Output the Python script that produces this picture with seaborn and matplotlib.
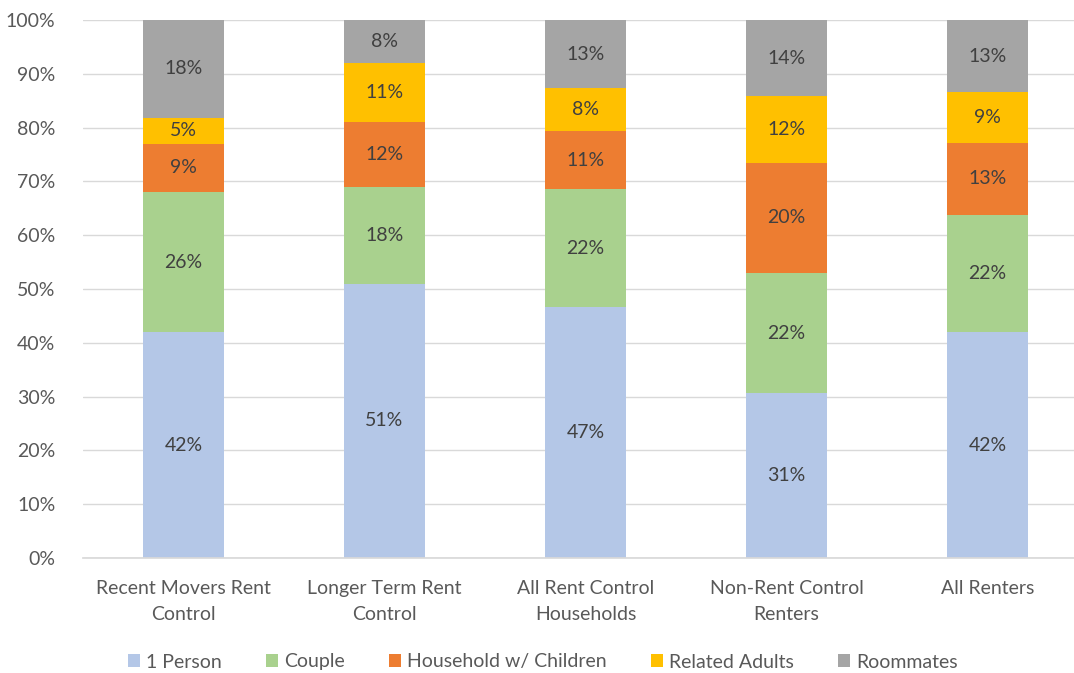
import matplotlib
matplotlib.use("Agg")
import matplotlib.pyplot as plt
import seaborn as sns
import pandas as pd
import numpy as np
from matplotlib.patches import Patch
from matplotlib.ticker import PercentFormatter

categories = ["Recent Movers Rent\nControl", "Longer Term Rent\nControl", "All Rent Control\nHouseholds",
              "Non-Rent Control\nRenters", "All Renters"]
series = ["1 Person", "Couple", "Household w/ Children", "Related Adults", "Roommates"]
one_person = [42, 51, 46.6, 30.6, 42]
couple = [26, 18, 21.9, 22.4, 21.8]
children = [9, 12, 10.8, 20.4, 13.4]
related = [4.8, 11, 8.0, 12.4, 9.4]
roommates = [18.2, 8, 12.7, 14.2, 13.4]
colors = ["#B4C7E7", "#A9D18E", "#ED7D31", "#FFC000", "#A5A5A5"]

vals = [one_person, couple, children, related, roommates]

sns.set_theme(style="white")
plt.rcParams["font.family"] = ["Lato", "DejaVu Sans"]

fig = plt.figure(figsize=(10.74, 6.73), dpi=100)
ax = fig.add_axes([83/1074, (673-558)/673, (1088-83)/1074, (558-20)/673])

cum = np.cumsum(np.array(vals), axis=0)
for i in range(len(series) - 1, -1, -1):
    df = pd.DataFrame({"cat": categories, "v": cum[i]})
    sns.barplot(data=df, x="cat", y="v", color=colors[i], saturation=1, width=0.4,
                ax=ax, linewidth=0, zorder=2)

for i in range(len(series)):
    for j in range(len(categories)):
        bottom = cum[i][j] - vals[i][j]
        ax.text(j, bottom + vals[i][j] / 2, f"{round(vals[i][j]):.0f}%", ha="center", va="center",
                fontsize=14, color="#404040", zorder=3)

ax.set_ylim(0, 100)
ax.set_xlim(-0.5, 4.5)
ax.set_yticks(np.arange(0, 101, 10))
ax.yaxis.set_major_formatter(PercentFormatter(decimals=0))
ax.grid(axis="y", color="#D9D9D9", linewidth=1, zorder=0)
ax.set_axisbelow(True)
for s in ["top", "right", "left"]:
    ax.spines[s].set_visible(False)
ax.spines["bottom"].set_color("#D9D9D9")
ax.tick_params(axis="both", length=0, labelsize=14, colors="#595959")
ax.tick_params(axis="y", pad=20)
ax.tick_params(axis="x", pad=16)
for lbl in ax.get_xticklabels():
    lbl.set_linespacing(1.6)
ax.set_xlabel("")
ax.set_ylabel("")

handles = [Patch(facecolor=c, edgecolor="none") for c in colors]
fig.legend(handles, series, loc="center", bbox_to_anchor=(543/1074, 1 - 662/673), ncol=5,
           frameon=False, fontsize=14, handlelength=0.6, handleheight=0.6, handletextpad=0.3,
           columnspacing=2.3, labelcolor="#595959")

fig.savefig("out.png", dpi=100)
